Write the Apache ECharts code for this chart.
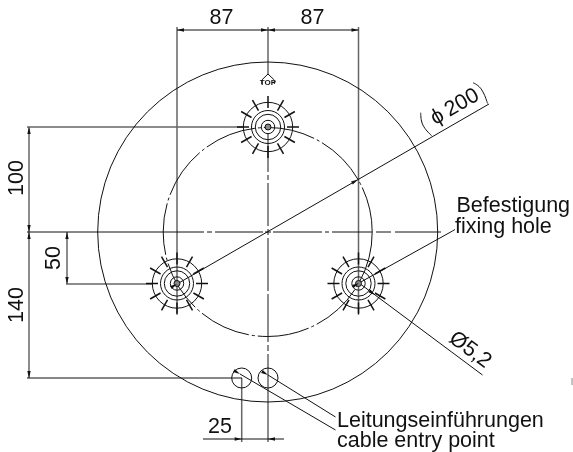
<!DOCTYPE html>
<html><head><meta charset="utf-8">
<style>html,body{margin:0;padding:0;background:#fff}#c{width:573px;height:452px}</style>
<script src="https://cdn.jsdelivr.net/npm/echarts@6/dist/echarts.min.js"></script>
</head><body><div id="c"></div>
<script>
// Drawing data, in drawing units: x1,y1,x2,y2 / cx,cy,r / x,y,angle
const thinLines = [
  [177,30,268,30],[268,30,358.5,30],
  [27,232,204,232],[207,232,212,232],[215,232,263,232],[265,232,271,232],[273,232,322,232],[325,232,329,232],[332,232,372,232],[376,232,391,232],[395,232,441,232],
  [27,378,242,378],
  [177,284,489,104],
  [359,283,452.5,231],[452.5,231,455,229.5],
  [359,283,482.5,375],
  [240,374,335.5,430],[268,375,335.5,417],
  [203,439,284,439]
];
const grayLines = [
  [177,27,177,313],[358.5,27,358.5,313],
  [29,127,29,378],[67,232,67,284],
  [27,127,243,127],[66,284,152,284],
  [241.7,378,241.7,442],
  [268,27,268,74],[268,133,268,172],[268,175,268,180],[268,183,268,226],[268,229,268,235],[268,238,268,291],[268,294,268,342],[268,345,268,351],[268,354,268,442]
];
const outerCircle = [[267.7,232,170]];
const boltCircle = [[267.7,232,104.5]];
const cableHoles = [[241.7,378,10],[268,378,10]];
const fixingHoles = [[268,127],[177,283.5],[358.5,283.5]];
const ringRadii = [24.7,16.5,12.7,6.7];
const holeCore = 3;
const tickAngles = [0,30,60,90,120,150,180,210,240,270,300,330];
const tickSpan = [19,31];
const parenArcs = [
  [[420.7,112.7],[421.5,121],[425,128.5],[431.7,135.7]],
  [[473,82.7],[479,86.5],[484,94],[487.5,103.5]]
];
const topMark = [[261.8,84],[261.8,80],[268,74],[274.3,80],[274.3,84]];
const strayMark = [[572,378],[572,385]];
const arrows = [
  [177,30,180],[268,30,0],[268,30,180],[358.5,30,0],
  [29,127,270],[29,232,90],[29,232,270],[29,378,90],[67,232,270],[67,284,90],
  [241.7,439,0],[268,439,180],
  [358,179.5,-30],[177,284,-30],[359,283,-29],[375,295,37],[240,374,30],[268,375,30]
];
const labelText = ['87','87','100','50','140','25','\u03D5\u2009200','\u00D85,2','Befestigung','fixing hole','Leitungseinf\u00FChrungen','cable entry point','TOP'];
const labelPos = [[221.5,18.5],[312.5,18.5],[17,178],[54,258],[17,305],[220,427],[455,107],[470,350],[456.5,206],[455,227],[337,421],[337,441],[268,83]];
const labelRot = [0,0,90,90,90,0,30,-37,0,0,0,0,0];
const labelAlign = ['center','center','center','center','center','center','center','center','left','left','left','left','center'];

const tickLines = [];
fixingHoles.forEach(h => tickAngles.forEach(a => {
  const t = a * Math.PI / 180;
  tickLines.push([h[0]+tickSpan[0]*Math.cos(t), h[1]+tickSpan[0]*Math.sin(t), h[0]+tickSpan[1]*Math.cos(t), h[1]+tickSpan[1]*Math.sin(t)]);
}));
const rings = [];
fixingHoles.forEach(h => ringRadii.forEach(r => rings.push([h[0],h[1],r])));
const cores = fixingHoles.map(h => [h[0],h[1],holeCore]);

function lineSeries(data, color, width) {
  return {type:'custom', silent:true, clip:false, animation:false, data,
    encode:{x:[0,2],y:[1,3]},
    renderItem:(p,api)=>{
      const a=api.coord([api.value(0),api.value(1)]), b=api.coord([api.value(2),api.value(3)]);
      return {type:'line',shape:{x1:a[0],y1:a[1],x2:b[0],y2:b[1]},style:{stroke:color,lineWidth:width,fill:null}};
    }};
}
function circleSeries(data, color, width, dash, fill) {
  return {type:'custom', silent:true, clip:false, animation:false, data,
    encode:{x:0,y:1},
    renderItem:(p,api)=>{
      const a=api.coord([api.value(0),api.value(1)]), r=api.size([api.value(2),0])[0];
      return {type:'circle',shape:{cx:a[0],cy:a[1],r},style:{stroke:color,lineWidth:width,fill:fill||null,lineDash:dash||null}};
    }};
}
function pathSeries(pts, color, width) {
  return {type:'line', silent:true, animation:false, data:pts, showSymbol:false, smooth:0.4, clip:false,
    lineStyle:{color,width}, itemStyle:{color}};
}
const arrowSeries = {type:'custom', silent:true, clip:false, animation:false, data:arrows,
  encode:{x:0,y:1},
  renderItem:(p,api)=>{
    const a=api.coord([api.value(0),api.value(1)]), t=api.value(2)*Math.PI/180, L=7, W=1.7;
    const bx=a[0]-L*Math.cos(t), by=a[1]-L*Math.sin(t), nx=-Math.sin(t)*W, ny=Math.cos(t)*W;
    return {type:'polygon',shape:{points:[[a[0],a[1]],[bx+nx,by+ny],[bx-nx,by-ny]]},style:{fill:'#111'}};
  }};
const textSeries = {type:'custom', silent:true, clip:false, animation:false, data:labelPos,
  encode:{x:0,y:1},
  renderItem:(p,api)=>{
    const i=p.dataIndex, a=api.coord([api.value(0),api.value(1)]), isTop=labelText[i]==='TOP';
    return {type:'text',x:a[0],y:a[1],rotation:labelRot[i]*Math.PI/180,
      style:{text:labelText[i],x:0,y:0,align:labelAlign[i],verticalAlign:'middle',
        fill:'#111',font:(isTop?'bold 8px':'21.5px')+' "Liberation Sans", Arial, sans-serif'}};
  }};

const chart = echarts.init(document.getElementById('c'));
chart.setOption({
  animation:false, backgroundColor:'#fff',
  grid:{left:0,right:0,top:0,bottom:0},
  xAxis:{type:'value',min:0,max:573,show:false},
  yAxis:{type:'value',min:0,max:452,inverse:true,show:false},
  series:[
    lineSeries(grayLines,'#666',1.5),
    lineSeries(thinLines,'#111',1),
    circleSeries(outerCircle,'#111',1),
    circleSeries(boltCircle,'#111',1,[52,3,3,3]),
    circleSeries(cableHoles,'#111',1),
    circleSeries(rings,'#111',1),
    circleSeries(cores,'#111',1,null,'#888'),
    lineSeries(tickLines,'#111',1.5),
    pathSeries(parenArcs[0],'#111',1),
    pathSeries(parenArcs[1],'#111',1),
    {type:'line',silent:true,animation:false,data:topMark,showSymbol:false,lineStyle:{color:'#111',width:1}},
    {type:'line',silent:true,animation:false,data:strayMark,showSymbol:false,lineStyle:{color:'#888',width:1}},
    arrowSeries,
    textSeries
  ]
});
</script></body></html>
